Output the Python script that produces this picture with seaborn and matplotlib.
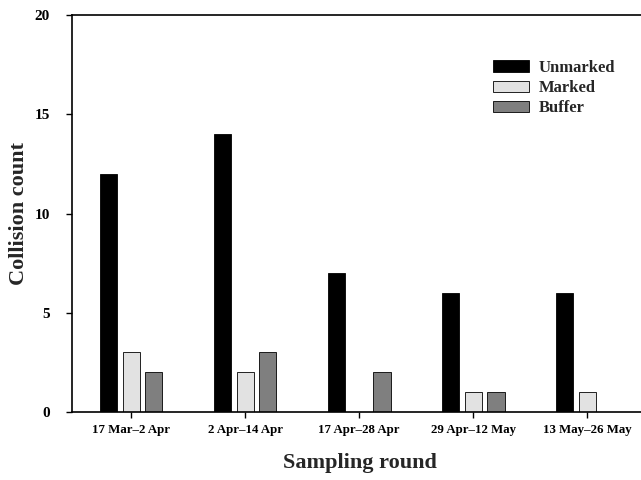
import pandas as pd
import matplotlib
matplotlib.use("Agg")
import matplotlib.pyplot as plt
import seaborn as sns

# --- DATA ---
rounds = ["17 Mar\u20132 Apr", "2 Apr\u201314 Apr", "17 Apr\u201328 Apr", "29 Apr\u201312 May", "13 May\u201326 May"]
unmarked = [12, 14, 7, 6, 6]
marked = [3, 2, 0, 1, 1]
buffer = [2, 3, 2, 1, 0]
groups = ["Unmarked", "Marked", "Buffer"]

df = pd.DataFrame({
    "round": rounds * 3,
    "count": unmarked + marked + buffer,
    "group": [g for g in groups for _ in rounds],
})

# --- STYLE ---
sns.set_style("ticks")
plt.rcParams["font.family"] = ["Liberation Serif", "DejaVu Serif"]
plt.rcParams["font.weight"] = "bold"

palette = {"Unmarked": "#000000", "Marked": "#e2e2e2", "Buffer": "#7f7f7f"}

fig = plt.figure(figsize=(6.41, 4.8), dpi=100)
# axes runs a little past the right edge of the figure (right spine cut off)
ax = fig.add_axes([0.1123, 0.1417, 0.899, 0.827])

sns.barplot(data=df, x="round", y="count", hue="group", order=rounds, hue_order=groups,
            palette=palette, width=0.6, gap=0.25, edgecolor="black", linewidth=0.6,
            saturation=1, ax=ax)

ax.set_ylim(0, 20)
ax.set_yticks([0, 5, 10, 15, 20])
ax.set_xlim(-0.518, 4.535)
ax.spines["right"].set_visible(False)
for s in ["left", "top", "bottom"]:
    ax.spines[s].set_linewidth(1.2)
    ax.spines[s].set_color("black")
ax.tick_params(axis="both", direction="out", length=4, width=1, colors="black")
ax.tick_params(axis="x", labelsize=9.3, pad=5)
ax.tick_params(axis="y", labelsize=11, pad=12)
for lab in ax.get_xticklabels() + ax.get_yticklabels():
    lab.set_fontweight("bold")

ax.set_xlabel("Sampling round", fontsize=16, fontweight="bold", labelpad=12)
ax.set_ylabel("Collision count", fontsize=16, fontweight="bold", labelpad=4)

leg = ax.legend(loc="upper left", bbox_to_anchor=(0.731, 0.887), frameon=False,
                fontsize=12, handlelength=2.16, handleheight=0.65, labelspacing=0.25,
                handletextpad=0.55, borderpad=0, borderaxespad=0)
for t in leg.get_texts():
    t.set_fontweight("bold")

fig.savefig("out.png", dpi=100)
